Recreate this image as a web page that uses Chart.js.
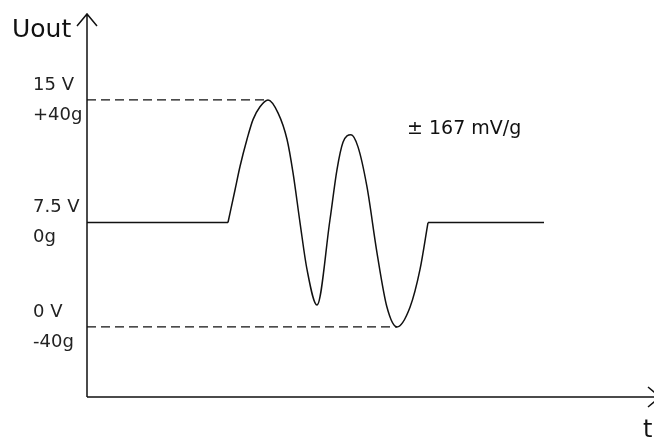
<!DOCTYPE html>
<html>
<head>
<meta charset="utf-8">
<script src="https://cdn.jsdelivr.net/npm/chart.js@4"></script>
<style>
  html, body { margin: 0; padding: 0; background: #fff; }
  #wrap { width: 654px; height: 440px; }
</style>
</head>
<body>
<div id="wrap"><canvas id="sensorChart"></canvas></div>
<script>
// time axis is arbitrary units, voltage read against 0 V / 15 V lines
const restLevel = 6.9;
const flatTime = [0, 141, 142, 341, 457];
const flatVolts = [restLevel, restLevel, null, restLevel, restLevel];

const waveTime = [141, 148, 153, 160, 166, 173, 181, 191, 200, 206, 213, 220, 230, 243, 250, 256, 264, 271, 280, 290, 300, 310, 323, 333, 341];
const waveVolts = [6.9, 9.05, 10.6, 12.4, 13.7, 14.55, 15.0, 14.15, 12.4, 10.2, 6.9, 3.8, 1.45, 7.1, 10.4, 12.2, 12.7, 11.9, 9.25, 4.9, 1.3, 0, 1.3, 3.8, 6.9];

const peakLine = { time: [0, 181], volts: [15, 15] };
const floorLine = { time: [0, 310], volts: [0, 0] };

const yTickValues = [0, restLevel, 15];
const yTickLabels = [['0 V', '-40g'], ['7.5 V', '0g'], ['15 V', '+40g']];

const noteText = '\u00b1 167 mV/g';
const notePos = { time: 320, volts: 13.1 };

function toPoints(xs, ys) {
    return xs.map((x, i) => ({ x: x, y: ys[i] }));
}

const ink = '#111';
const fontFamily = '"DejaVu Sans", sans-serif';

// axes with arrow heads + free text
const axesPlugin = {
    id: 'axesPlugin',
    afterDraw(chart) {
        const { ctx, chartArea, scales } = chart;
        const left = chartArea.left, bottom = chartArea.bottom;
        ctx.save();
        ctx.strokeStyle = ink;
        ctx.lineWidth = 1.5;
        ctx.beginPath();
        ctx.moveTo(left, bottom);
        ctx.lineTo(left, chartArea.top);
        ctx.moveTo(left - 10, chartArea.top + 12);
        ctx.lineTo(left, chartArea.top);
        ctx.lineTo(left + 10, chartArea.top + 12);
        ctx.stroke();

        const tipX = chartArea.right + 8;
        ctx.beginPath();
        ctx.moveTo(left, bottom);
        ctx.lineTo(tipX, bottom);
        ctx.moveTo(tipX - 12, bottom - 10);
        ctx.lineTo(tipX, bottom);
        ctx.lineTo(tipX - 12, bottom + 10);
        ctx.stroke();

        ctx.fillStyle = ink;
        ctx.textBaseline = 'alphabetic';
        ctx.textAlign = 'left';
        ctx.font = '25px ' + fontFamily;
        ctx.fillText('Uout', 12, 37);
        ctx.font = '24px ' + fontFamily;
        ctx.fillText('t', 643, 437);

        ctx.font = '19px ' + fontFamily;
        ctx.textBaseline = 'middle';
        ctx.fillText(noteText, scales.x.getPixelForValue(notePos.time), scales.y.getPixelForValue(notePos.volts));
        ctx.restore();
    }
};

new Chart(document.getElementById('sensorChart'), {
    type: 'line',
    data: {
        datasets: [{
            label: 'rest',
            data: toPoints(flatTime, flatVolts),
            borderColor: ink,
            borderWidth: 1.5,
            pointRadius: 0,
            spanGaps: false
        }, {
            label: 'signal',
            data: toPoints(waveTime, waveVolts),
            borderColor: ink,
            borderWidth: 1.5,
            pointRadius: 0,
            cubicInterpolationMode: 'monotone'
        }, {
            label: '+40g',
            data: toPoints(peakLine.time, peakLine.volts),
            borderColor: ink,
            borderWidth: 1.2,
            borderDash: [9, 5],
            pointRadius: 0
        }, {
            label: '-40g',
            data: toPoints(floorLine.time, floorLine.volts),
            borderColor: ink,
            borderWidth: 1.2,
            borderDash: [9, 5],
            pointRadius: 0
        }]
    },
    options: {
        responsive: true,
        maintainAspectRatio: false,
        animation: false,
        layout: { padding: { left: 33, right: 2, top: 14, bottom: 43 } },
        plugins: {
            legend: { display: false },
            tooltip: { enabled: false }
        },
        scales: {
            x: {
                type: 'linear',
                min: 0,
                max: 565,
                display: false
            },
            y: {
                type: 'linear',
                min: -4.63,
                max: 20.68,
                grid: { display: false, drawTicks: false },
                border: { display: false },
                afterFit(scale) {
                    scale.width = 54;
                    scale.paddingTop = 0;
                    scale.paddingBottom = 0;
                },
                afterBuildTicks(scale) {
                    scale.ticks = yTickValues.map(v => ({ value: v }));
                },
                ticks: {
                    crossAlign: 'far',
                    padding: 0,
                    color: '#222',
                    font: { family: fontFamily, size: 18, lineHeight: '30px' },
                    callback: function(value, index) {
                        return yTickLabels[index];
                    }
                }
            }
        }
    },
    plugins: [axesPlugin]
});
</script>
</body>
</html>
